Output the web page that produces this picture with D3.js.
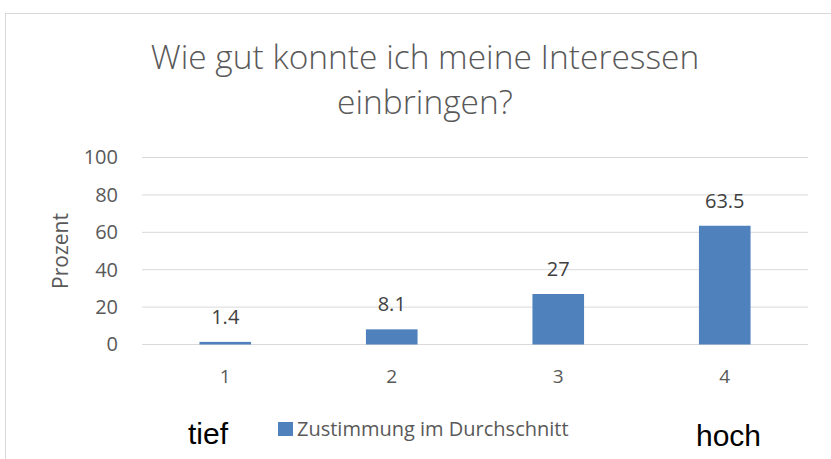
<!DOCTYPE html>
<html>
<head>
<meta charset="utf-8">
<script src="https://cdn.jsdelivr.net/npm/d3@7"></script>
<style>
  body { margin: 0; background: #fff; }
  text { font-family: "Open Sans", sans-serif; }
</style>
</head>
<body>
<script>
// chart data
const categories = ['1', '2', '3', '4'];
const values = [1.4, 8.1, 27, 63.5];
const yTicks = [0, 20, 40, 60, 80, 100];
const seriesName = 'Zustimmung im Durchschnitt';
const titleLines = ['Wie gut konnte ich meine Interessen', 'einbringen?'];

const W = 831, H = 459;
const margin = {top: 157.5, bottom: 114.5, left: 142, right: 23};
const width = W - margin.left - margin.right;
const height = H - margin.top - margin.bottom;

const svg = d3.select('body').append('svg')
  .attr('width', W)
  .attr('height', H);

// chart frame
svg.append('rect')
  .attr('x', 5.5).attr('y', 13.5)
  .attr('width', 840).attr('height', 460)
  .attr('fill', 'none')
  .attr('stroke', '#d9d9d9');

// title
svg.append('g').selectAll('text').data(titleLines).join('text')
  .attr('x', 425)
  .attr('y', (d, i) => 69 + i * 45)
  .attr('text-anchor', 'middle')
  .attr('fill', '#595959')
  .attr('font-size', 33.5)
  .attr('font-weight', 300)
  .text(d => d);

const g = svg.append('g')
  .attr('transform', `translate(${margin.left},${margin.top})`);

const xscale = d3.scaleBand().domain(categories).range([0, width])
  .paddingInner(0.69).paddingOuter(0.345);
const yscale = d3.scaleLinear().domain([0, 100]).range([height, 0]);

// gridlines
g.append('g').selectAll('line').data(yTicks).join('line')
  .attr('x1', 0).attr('x2', width)
  .attr('y1', d => yscale(d)).attr('y2', d => yscale(d))
  .attr('stroke', '#d9d9d9')
  .attr('stroke-width', 1);

// y axis labels
const yaxis = d3.axisLeft(yscale).tickValues(yTicks).tickSize(0).tickPadding(24);
g.append('g').call(yaxis)
  .call(s => s.select('.domain').remove())
  .selectAll('text')
  .attr('font-size', 20)
  .attr('fill', '#595959')
  .style('font-family', '"Open Sans", sans-serif');

// x axis labels
const xaxis = d3.axisBottom(xscale).tickSize(0).tickPadding(25);
g.append('g').attr('transform', `translate(0,${height})`).call(xaxis)
  .call(s => s.select('.domain').remove())
  .selectAll('text')
  .attr('font-size', 19)
  .attr('fill', '#595959')
  .style('font-family', '"Open Sans", sans-serif');

// bars
g.selectAll('rect.bar').data(values).join('rect')
  .attr('class', 'bar')
  .attr('x', (d, i) => xscale(categories[i]))
  .attr('y', d => yscale(d))
  .attr('width', xscale.bandwidth())
  .attr('height', d => height - yscale(d))
  .attr('fill', '#4f81bd');

// value labels
g.selectAll('text.val').data(values).join('text')
  .attr('class', 'val')
  .attr('x', (d, i) => xscale(categories[i]) + xscale.bandwidth() / 2)
  .attr('y', d => yscale(d) - 18)
  .attr('text-anchor', 'middle')
  .attr('font-size', 20)
  .attr('fill', '#404040')
  .text(d => d);

// y axis title
svg.append('text')
  .attr('transform', 'translate(68,251) rotate(-90)')
  .attr('text-anchor', 'middle')
  .attr('font-size', 21)
  .attr('fill', '#595959')
  .text('Prozent');

// legend
svg.append('rect')
  .attr('x', 278).attr('y', 422)
  .attr('width', 15).attr('height', 14)
  .attr('fill', '#4f81bd');
svg.append('text')
  .attr('x', 297).attr('y', 436)
  .attr('font-size', 20)
  .attr('fill', '#595959')
  .text(seriesName);

// scale end labels
svg.append('text')
  .attr('x', 188).attr('y', 444)
  .attr('font-size', 30)
  .attr('fill', '#000')
  .style('font-family', '"Liberation Sans", Arial, sans-serif')
  .text('tief');
svg.append('text')
  .attr('x', 696).attr('y', 446)
  .attr('font-size', 30)
  .attr('fill', '#000')
  .style('font-family', '"Liberation Sans", Arial, sans-serif')
  .text('hoch');
</script>
</body>
</html>
